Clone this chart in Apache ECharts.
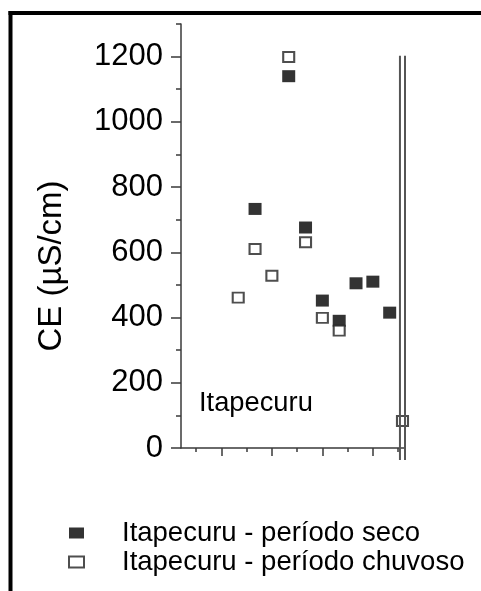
<!DOCTYPE html>
<html>
<head>
<meta charset="utf-8">
<script src="https://cdn.jsdelivr.net/npm/echarts@6/dist/echarts.min.js"></script>
<style>
  html, body { margin: 0; padding: 0; background: #fff; }
  #main { width: 481px; height: 591px; }
</style>
</head>
<body>
<div id="main"></div>
<script>
// CE values; x is the sample position along the (unlabelled) axis
const secoX = [2, 4, 5, 6, 7, 8, 9, 10]
const secoCE = [733, 1140, 676, 452, 390, 505, 510, 415]

const chuvosoX = [1, 2, 3, 4, 5, 6, 7, 10.76]
const chuvosoCE = [461, 610, 528, 1199, 631, 399, 360, 83]

// tick positions
const yMajorTicks = [0, 200, 400, 600, 800, 1000, 1200]
const yMinorTicks = [100, 300, 500, 700, 900, 1100, 1300]
const xMajorTicks = [0, 3, 6, 9]
const xMinorTicks = [-1.5, 1.5, 4.5, 7.5, 10.5]
// axis break (double line) at the right end, from 1203 down below the axis
const breakX = [10.61, 10.91]
const breakTop = 1203
const breakBottom = -37

const seriesNames = ['Itapecuru - período seco', 'Itapecuru - período chuvoso']
const siteLabel = 'Itapecuru'
const yName = 'CE (µS/cm)'

const font = 'Liberation Sans, Arial, sans-serif'
const axisColor = '#3a3a3a'

const pairs = (xs, ys) => xs.map((x, i) => [x, ys[i]])

var myChart = echarts.init(document.getElementById('main'))

const option = {
  animation: false,
  backgroundColor: '#fff',
  grid: { left: 181, right: 76, top: 24, bottom: 143 },
  title: {
    text: siteLabel,
    left: 199,
    top: 390,
    padding: 0,
    textStyle: { fontFamily: font, fontSize: 27.3, fontWeight: 'normal', color: '#000' }
  },
  legend: {
    orient: 'vertical',
    left: 68,
    top: 519,
    padding: 0,
    itemGap: 1,
    itemWidth: 15,
    itemHeight: 11,
    icon: 'rect',
    data: seriesNames,
    textStyle: { fontFamily: font, fontSize: 27.5, color: '#000', padding: [0, 0, 0, 33] }
  },
  xAxis: [
    {
      type: 'value', min: -2.4, max: 10.91, position: 'bottom',
      axisLine: { onZero: false, lineStyle: { color: axisColor, width: 1.5 } },
      axisTick: { show: true, inside: false, length: 8, customValues: xMajorTicks, lineStyle: { color: axisColor, width: 1.5 } },
      axisLabel: { show: false },
      splitLine: { show: false }
    },
    {
      type: 'value', min: -2.4, max: 10.91, position: 'bottom',
      axisLine: { show: false, onZero: false },
      axisTick: { show: true, length: 4, customValues: xMinorTicks, lineStyle: { color: axisColor, width: 1.5 } },
      axisLabel: { show: false },
      splitLine: { show: false }
    }
  ],
  yAxis: [
    {
      type: 'value', min: 0, max: 1300, position: 'left',
      name: yName,
      nameLocation: 'middle',
      nameGap: 113,
      nameTextStyle: { fontFamily: font, fontSize: 33, color: '#000', padding: [0, 60, 0, 0] },
      axisLine: { show: true, onZero: false, lineStyle: { color: axisColor, width: 1.5 } },
      axisTick: { show: true, length: 10, customValues: yMajorTicks, lineStyle: { color: axisColor, width: 1.5 } },
      axisLabel: {
        customValues: yMajorTicks, margin: 18, fontFamily: font, fontSize: 31, color: '#000',
        formatter: v => String(v)
      },
      splitLine: { show: false }
    },
    {
      type: 'value', min: 0, max: 1300, position: 'left',
      axisLine: { show: false, onZero: false },
      axisTick: { show: true, length: 5, customValues: yMinorTicks, lineStyle: { color: axisColor, width: 1.5 } },
      axisLabel: { show: false },
      splitLine: { show: false }
    }
  ],
  series: [
    {
      name: seriesNames[0],
      type: 'scatter',
      symbol: 'rect',
      symbolSize: [13, 12],
      itemStyle: { color: '#000' },
      data: pairs(secoX, secoCE)
    },
    {
      name: seriesNames[1],
      type: 'scatter',
      symbol: 'rect',
      symbolSize: [11, 10],
      itemStyle: { color: '#fff', borderColor: '#222', borderWidth: 2 },
      data: pairs(chuvosoX, chuvosoCE)
    },
    {
      // axis-break double line
      type: 'custom',
      silent: true,
      clip: false,
      z: 5,
      data: breakX.map(x => [x]),
      renderItem: (params, api) => {
        const top = api.coord([api.value(0), breakTop])
        const bottom = api.coord([api.value(0), breakBottom])
        return {
          type: 'line',
          shape: { x1: top[0], y1: top[1], x2: bottom[0], y2: bottom[1] },
          style: { stroke: '#555', lineWidth: 2 }
        }
      }
    }
  ],
  graphic: [
    // page frame (thick black edges on top and left)
    { type: 'rect', shape: { x: 8.5, y: 11, width: 473, height: 4 }, style: { fill: '#000' } },
    { type: 'rect', shape: { x: 8.5, y: 11, width: 4, height: 580 }, style: { fill: '#000' } }
  ]
}

myChart.setOption(option)
</script>
</body>
</html>
